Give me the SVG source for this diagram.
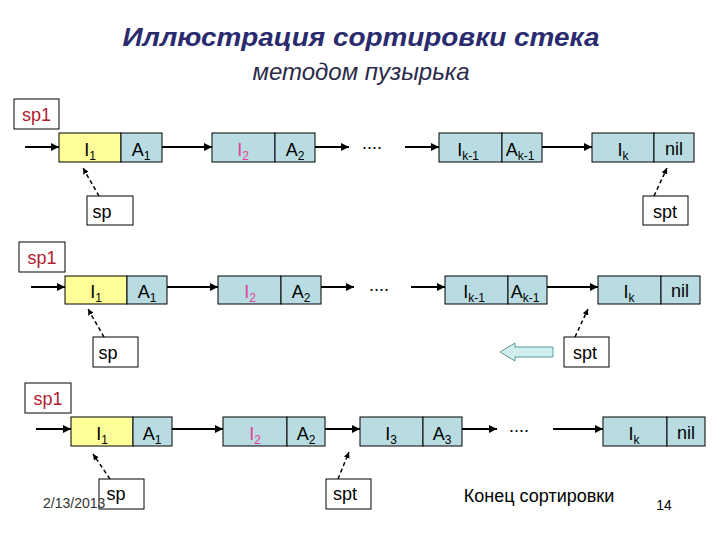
<svg xmlns="http://www.w3.org/2000/svg" width="720" height="540" viewBox="0 0 720 540">
<style>
.t{font-family:"Liberation Sans",Arial,sans-serif;font-size:18px;fill:#000}
.c{text-anchor:middle}
.sub{font-size:12px}
.box{fill:#fff;stroke:#000;stroke-width:1}
.y{fill:#ffff99;stroke:#000;stroke-width:1}
.b{fill:#b8dce2;stroke:#000;stroke-width:1}
.red{fill:#b02030}
.pink{fill:#e0409a}
.ln{stroke:#000;stroke-width:2;fill:none}
.dl{stroke:#000;stroke-width:1.5;fill:none;stroke-dasharray:4,3}
</style>
<defs>
<marker id="ah" viewBox="0 0 10 10" refX="10" refY="5" markerWidth="4" markerHeight="4" orient="auto"><path d="M0,0L10,5L0,10z" fill="#000"/></marker>
</defs>
<rect width="720" height="540" fill="#fff"/>
<g id="title">
<text x="361" y="46" class="t c" textLength="477" lengthAdjust="spacingAndGlyphs" style="font-size:25px;font-weight:bold;font-style:italic;fill:#2a2a6e">Иллюстрация сортировки стека</text>
<text x="361" y="80" class="t c" style="font-size:24px;font-style:italic;fill:#2a2a4a">методом пузырька</text>
</g>
<!-- Row 1 -->
<g id="r1-sp1"><rect x="14" y="99" width="45" height="30" class="box"/><text x="36.5" y="121" class="t c red">sp1</text></g>
<g id="r1-n1"><rect x="59" y="133" width="62" height="29" class="y"/><rect x="121" y="133" width="41" height="29" class="b"/>
<text x="90" y="156" class="t c">I<tspan class="sub" dy="4">1</tspan></text><text x="141" y="156" class="t c">A<tspan class="sub" dy="4">1</tspan></text></g>
<g id="r1-n2"><rect x="212" y="133" width="63" height="29" class="b"/><rect x="275" y="133" width="40" height="29" class="b"/>
<text x="243" y="156" class="t c pink">I<tspan class="sub" dy="4">2</tspan></text><text x="295" y="156" class="t c">A<tspan class="sub" dy="4">2</tspan></text></g>
<g id="r1-dots"><text x="372" y="149" class="t c">....</text></g>
<g id="r1-nk1"><rect x="439" y="133" width="63" height="29" class="b"/><rect x="502" y="133" width="40" height="29" class="b"/>
<text x="468" y="156" class="t c">I<tspan class="sub" dy="4">k-1</tspan></text><text x="520" y="156" class="t c">A<tspan class="sub" dy="4">k-1</tspan></text></g>
<g id="r1-nk"><rect x="592" y="133" width="62" height="29" class="b"/><rect x="654" y="133" width="40" height="29" class="b"/>
<text x="623" y="156" class="t c">I<tspan class="sub" dy="4">k</tspan></text><text x="674" y="155" class="t c">nil</text></g>
<g id="r1-sp"><rect x="87" y="196" width="46" height="29" class="box"/><text x="102" y="218" class="t c">sp</text></g>
<g id="r1-spt"><rect x="643" y="196" width="45" height="29" class="box"/><text x="665" y="218" class="t c">spt</text></g>
<!-- Row 2 -->
<g id="r2-sp1"><rect x="19" y="242" width="46" height="30" class="box"/><text x="42" y="264" class="t c red">sp1</text></g>
<g id="r2-n1"><rect x="65" y="276" width="62" height="28" class="y"/><rect x="127" y="276" width="40" height="28" class="b"/>
<text x="96" y="298" class="t c">I<tspan class="sub" dy="4">1</tspan></text><text x="147" y="298" class="t c">A<tspan class="sub" dy="4">1</tspan></text></g>
<g id="r2-n2"><rect x="218" y="276" width="63" height="28" class="b"/><rect x="281" y="276" width="40" height="28" class="b"/>
<text x="250" y="298" class="t c pink">I<tspan class="sub" dy="4">2</tspan></text><text x="301" y="298" class="t c">A<tspan class="sub" dy="4">2</tspan></text></g>
<g id="r2-dots"><text x="379" y="291" class="t c">....</text></g>
<g id="r2-nk1"><rect x="445" y="276" width="63" height="28" class="b"/><rect x="508" y="276" width="39" height="28" class="b"/>
<text x="474" y="298" class="t c">I<tspan class="sub" dy="4">k-1</tspan></text><text x="525" y="298" class="t c">A<tspan class="sub" dy="4">k-1</tspan></text></g>
<g id="r2-nk"><rect x="598" y="276" width="63" height="28" class="b"/><rect x="661" y="276" width="39" height="28" class="b"/>
<text x="629" y="298" class="t c">I<tspan class="sub" dy="4">k</tspan></text><text x="680" y="297" class="t c">nil</text></g>
<g id="r2-sp"><rect x="93" y="337" width="45" height="30" class="box"/><text x="108" y="359" class="t c">sp</text></g>
<g id="r2-spt"><rect x="564" y="337" width="45" height="30" class="box"/><text x="585" y="359" class="t c">spt</text></g>
<g id="r2-move"><path d="M500,352L515,343L515,347L553,347L553,357L515,357L515,361Z" fill="#d2eeee" stroke="#5a9a9a" stroke-width="1"/></g>
<!-- Row 3 -->
<g id="r3-sp1"><rect x="25" y="383" width="46" height="30" class="box"/><text x="48" y="405" class="t c red">sp1</text></g>
<g id="r3-n1"><rect x="71" y="417" width="62" height="29" class="y"/><rect x="133" y="417" width="39" height="29" class="b"/>
<text x="102" y="440" class="t c">I<tspan class="sub" dy="4">1</tspan></text><text x="152" y="440" class="t c">A<tspan class="sub" dy="4">1</tspan></text></g>
<g id="r3-n2"><rect x="223" y="417" width="64" height="29" class="b"/><rect x="287" y="417" width="38" height="29" class="b"/>
<text x="255" y="440" class="t c pink">I<tspan class="sub" dy="4">2</tspan></text><text x="306" y="440" class="t c">A<tspan class="sub" dy="4">2</tspan></text></g>
<g id="r3-n3"><rect x="360" y="417" width="63" height="29" class="b"/><rect x="423" y="417" width="39" height="29" class="b"/>
<text x="391" y="440" class="t c">I<tspan class="sub" dy="4">3</tspan></text><text x="442" y="440" class="t c">A<tspan class="sub" dy="4">3</tspan></text></g>
<g id="r3-dots"><text x="519" y="432" class="t c">....</text></g>
<g id="r3-nk"><rect x="603" y="417" width="64" height="29" class="b"/><rect x="667" y="417" width="38" height="29" class="b"/>
<text x="634" y="440" class="t c">I<tspan class="sub" dy="4">k</tspan></text><text x="686" y="439" class="t c">nil</text></g>
<g id="r3-sp"><rect x="99" y="479" width="45" height="30" class="box"/><text x="116" y="500" class="t c">sp</text></g>
<g id="r3-spt"><rect x="326" y="479" width="45" height="30" class="box"/><text x="345" y="500" class="t c">spt</text></g>
<g id="footer">
<text x="43" y="508" class="t" style="font-size:14px;fill:#333">2/13/2013</text>
<text x="539" y="502" class="t c">Конец сортировки</text>
<text x="664" y="510" class="t c" style="font-size:14px">14</text>
</g>
<g id="connectors">
<line x1="25" y1="147" x2="59" y2="147" class="ln" marker-end="url(#ah)"/>
<line x1="162" y1="147" x2="212" y2="147" class="ln" marker-end="url(#ah)"/>
<line x1="315" y1="147" x2="349" y2="147" class="ln" marker-end="url(#ah)"/>
<line x1="405" y1="147" x2="439" y2="147" class="ln" marker-end="url(#ah)"/>
<line x1="542" y1="147" x2="592" y2="147" class="ln" marker-end="url(#ah)"/>
<line x1="99" y1="196" x2="83" y2="168" class="dl" marker-end="url(#ah)"/>
<line x1="654" y1="196" x2="667" y2="168" class="dl" marker-end="url(#ah)"/>
<line x1="31" y1="287" x2="65" y2="287" class="ln" marker-end="url(#ah)"/>
<line x1="167" y1="287" x2="218" y2="287" class="ln" marker-end="url(#ah)"/>
<line x1="321" y1="287" x2="354" y2="287" class="ln" marker-end="url(#ah)"/>
<line x1="411" y1="287" x2="445" y2="287" class="ln" marker-end="url(#ah)"/>
<line x1="547" y1="287" x2="598" y2="287" class="ln" marker-end="url(#ah)"/>
<line x1="104" y1="337" x2="88" y2="309" class="dl" marker-end="url(#ah)"/>
<line x1="575" y1="337" x2="588" y2="309" class="dl" marker-end="url(#ah)"/>
<line x1="36" y1="429" x2="71" y2="429" class="ln" marker-end="url(#ah)"/>
<line x1="172" y1="429" x2="223" y2="429" class="ln" marker-end="url(#ah)"/>
<line x1="325" y1="429" x2="360" y2="429" class="ln" marker-end="url(#ah)"/>
<line x1="462" y1="429" x2="497" y2="429" class="ln" marker-end="url(#ah)"/>
<line x1="553" y1="429" x2="603" y2="429" class="ln" marker-end="url(#ah)"/>
<line x1="110" y1="479" x2="93" y2="454" class="dl" marker-end="url(#ah)"/>
<line x1="338" y1="479" x2="349" y2="452" class="dl" marker-end="url(#ah)"/>
</g>
</svg>
